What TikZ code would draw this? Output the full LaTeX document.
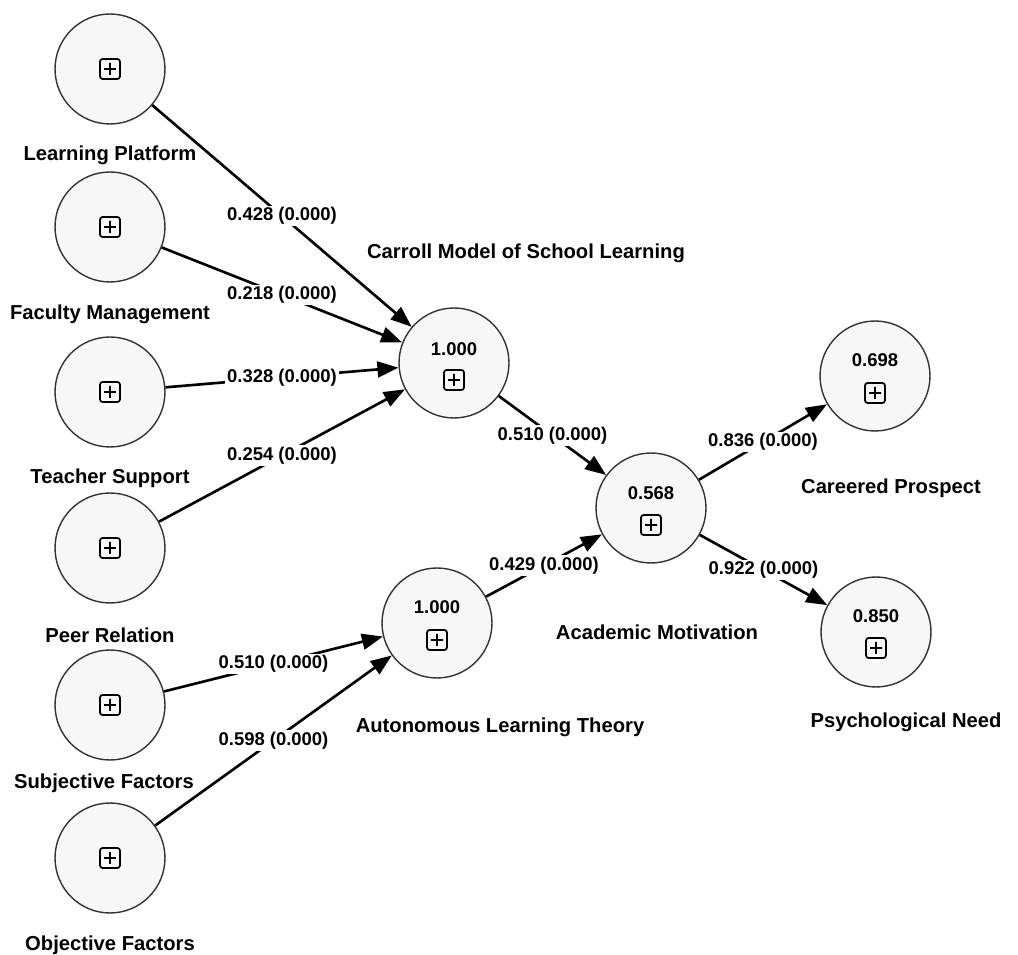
\documentclass[tikz,border=0pt]{standalone}
\usepackage{fontspec}
\setmainfont{Liberation Sans}
\usetikzlibrary{arrows.meta}
\tikzset{lv/.style={circle,draw=black!80,line width=0.8pt,fill=black!3,minimum size=2.2cm,inner sep=0pt},
  lbl/.style={font=\fontsize{11.5}{13}\selectfont\bfseries},
  val/.style={font=\fontsize{10.5}{12}\selectfont\bfseries},
  arr/.style={line width=1.5pt,-{Triangle[length=12pt,width=9pt]}},
  coef/.style={fill=white,inner sep=1pt,font=\fontsize{10.5}{12}\selectfont\bfseries}}
\newcommand{\plusbox}[1]{\draw[line width=1pt,rounded corners=1.5pt,shift={#1}] (-0.2cm,-0.2cm) rectangle (0.2cm,0.2cm) (-0.12cm,0)--(0.12cm,0) (0,-0.12cm)--(0,0.12cm);}

\begin{document}
\begin{tikzpicture}[x=0.02cm,y=-0.02cm]
\useasboundingbox (0,0) rectangle (1018,955);
% left side
\node[lv] (lp) at (110,69) {};
\node[lv] (fm) at (110,227) {};
\node[lv] (ts) at (110,392) {};
\node[lv] (pr) at (110,548) {};
\node[lv] (sf) at (110,705) {};
\node[lv] (of) at (110,858) {};
\foreach \n in {lp,fm,ts,pr,sf,of} {\plusbox{(\n)}}
\node[lbl] (lp-t) at (110,155) {Learning Platform};
\node[lbl] (fm-t) at (110,314) {Faculty Management};
\node[lbl] (ts-t) at (110,478) {Teacher Support};
\node[lbl] (pr-t) at (110,635) {Peer Relation};
\node[lbl] (sf-t) at (104,783) {Subjective Factors};
\node[lbl] (of-t) at (110,945) {Objective Factors};
% middle and right
\node[lv] (cm) at (454,363) {};
\node[lv] (alt) at (437,623) {};
\node[lv] (am) at (651,508) {};
\node[lv] (cp) at (875,376) {};
\node[lv] (pn) at (876,632) {};
\node[val] (cm-v) at (454,349) {1.000};
\node[val] (alt-v) at (437,607) {1.000};
\node[val] (am-v) at (651,493) {0.568};
\node[val] (cp-v) at (875,360) {0.698};
\node[val] (pn-v) at (876,616) {0.850};
\plusbox{(454,380)} \plusbox{(437,640)} \plusbox{(651,525)} \plusbox{(875,393)} \plusbox{(876,648)}
\node[lbl] (cm-t) at (526,253) {Carroll Model of School Learning};
\node[lbl] (alt-t) at (500,727) {Autonomous Learning Theory};
\node[lbl] (am-t) at (657,632) {Academic Motivation};
\node[lbl] (cp-t) at (891,488) {Careered Prospect};
\node[lbl] (pn-t) at (906,722) {Psychological Need};
% paths
\draw[arr] (lp)--(cm) node[coef,midway]{0.428 (0.000)};
\draw[arr] (fm)--(cm) node[coef,midway]{0.218 (0.000)};
\draw[arr] (ts)--(cm) node[coef,midway]{0.328 (0.000)};
\draw[arr] (pr)--(cm) node[coef,midway]{0.254 (0.000)};
\draw[arr] (sf)--(alt) node[coef,midway]{0.510 (0.000)};
\draw[arr] (of)--(alt) node[coef,midway]{0.598 (0.000)};
\draw[arr] (cm)--(am) node[coef,midway]{0.510 (0.000)};
\draw[arr] (alt)--(am) node[coef,midway]{0.429 (0.000)};
\draw[arr] (am)--(cp) node[coef,midway]{0.836 (0.000)};
\draw[arr] (am)--(pn) node[coef,midway]{0.922 (0.000)};
\end{tikzpicture}
\end{document}
